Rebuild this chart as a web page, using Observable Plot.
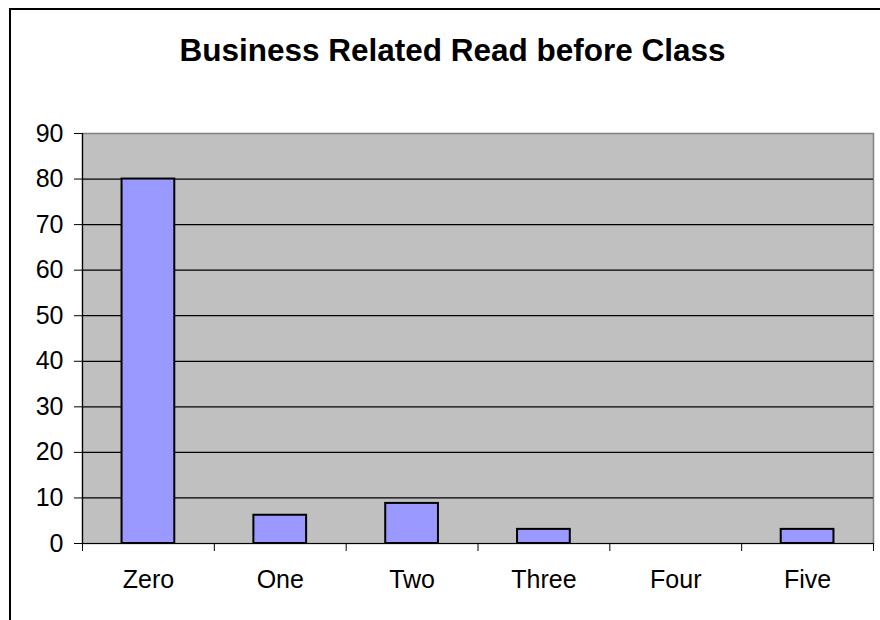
<!DOCTYPE html>
<html>
<head>
<meta charset="utf-8">
<script src="https://cdn.jsdelivr.net/npm/d3@7"></script>
<script src="https://cdn.jsdelivr.net/npm/@observablehq/plot@0.6"></script>
<style>
  html, body { margin: 0; padding: 0; background: #fff; }
  #wrap { position: relative; width: 880px; height: 620px; overflow: hidden; background: #fff; font-family: "Liberation Sans", Arial, sans-serif; }
  #border { position: absolute; left: 9px; top: 8px; width: 1000px; height: 1000px; border: 2px solid #000; box-sizing: border-box; }
  #title { position: absolute; left: 0; top: 35px; width: 905px; text-align: center; font-size: 31.5px; font-weight: bold; line-height: 30px; color: #000; white-space: nowrap; }
  #chart { position: absolute; left: 0; top: 0; }
</style>
</head>
<body>
<div id="wrap">
  <div id="border"></div>
  <div id="chart"></div>
  <div id="title">Business Related Read before Class</div>
</div>
<script>
const categories = ["Zero", "One", "Two", "Three", "Four", "Five"];
const values = [80, 6.2, 8.8, 3.1, 0, 3.1];
const yTicks = [0, 10, 20, 30, 40, 50, 60, 70, 80, 90];
const gridTicks = [10, 20, 30, 40, 50, 60, 70, 80];

const data = categories.map((c, i) => ({category: c, value: values[i]}));

const W = 880, H = 620;
const mL = 82, mR = 7, mT = 133, mB = 77;
const step = (W - mL - mR) / categories.length;

const chart = Plot.plot({
  width: W,
  height: H,
  marginLeft: mL,
  marginRight: mR,
  marginTop: mT,
  marginBottom: mB,
  style: {fontFamily: "'Liberation Sans', Arial, sans-serif", color: "#000", background: "transparent"},
  x: {domain: categories, paddingInner: 0.6, paddingOuter: 0.3, round: false},
  y: {domain: [0, 90]},
  marks: [
    Plot.frame({fill: "#C0C0C0", stroke: "#808080", strokeWidth: 1.5}),
    Plot.ruleY(gridTicks, {stroke: "#000", strokeWidth: 1.2}),
    // left axis line
    Plot.ruleX([categories[0]], {x: d => d, dx: -step / 2, y1: 90, y2: 0, stroke: "#000", strokeWidth: 1.2}),
    // x boundary ticks
    Plot.ruleX(categories, {x: d => d, dx: -step / 2, y1: 0, y2: 0, insetBottom: -8, stroke: "#000", strokeWidth: 1}),
    Plot.ruleX([categories[categories.length - 1]], {x: d => d, dx: step / 2, y1: 0, y2: 0, insetBottom: -8, stroke: "#000", strokeWidth: 1}),
    Plot.barY(data, {x: "category", y: "value", fill: "#9999FF", stroke: "#000", strokeWidth: 2}),
    Plot.ruleY([0], {stroke: "#000", strokeWidth: 1.2}),
    Plot.axisY({ticks: yTicks, tickSize: 8, tickPadding: 11, fontSize: 25, tickFormat: d => String(d), label: null}),
    Plot.axisX({tickSize: 0, tickPadding: 27, fontSize: 25, label: null})
  ]
});
document.getElementById("chart").appendChild(chart);
</script>
</body>
</html>
